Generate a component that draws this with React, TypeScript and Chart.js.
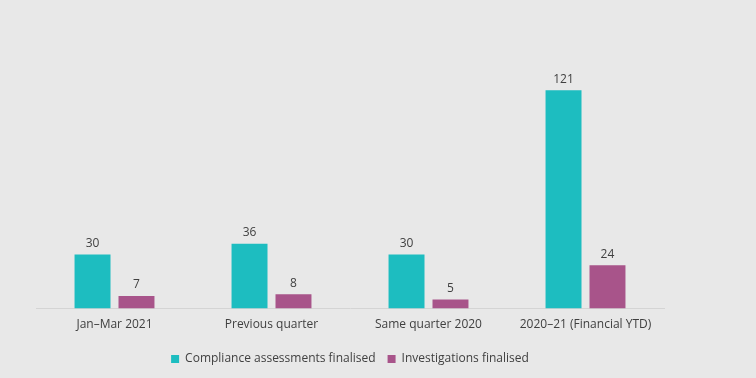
import React, { useEffect, useRef } from "react";
import { Chart, registerables } from "chart.js";

Chart.register(...registerables);

const categories = ["Jan–Mar 2021", "Previous quarter", "Same quarter 2020", "2020–21 (Financial YTD)"];
const complianceValues = [30, 36, 30, 121];
const investigationValues = [7, 8, 5, 24];
const seriesNames = ["Compliance assessments finalised", "Investigations finalised"];

const FONT = "'Open Sans', 'DejaVu Sans', sans-serif";
const TEXT = "#404040";

const labelPlugin = {
  id: "valueLabels",
  afterDatasetsDraw(chart: any) {
    const ctx = chart.ctx;
    ctx.save();
    ctx.font = `12px ${FONT}`;
    ctx.fillStyle = TEXT;
    ctx.textAlign = "center";
    ctx.textBaseline = "bottom";
    chart.data.datasets.forEach((ds: any, i: number) => {
      const meta = chart.getDatasetMeta(i);
      meta.data.forEach((bar: any, j: number) => {
        ctx.fillText(String(ds.data[j]), bar.x, bar.y - 5);
      });
    });
    ctx.restore();
  },
};

export default function App() {
  const ref = useRef<HTMLCanvasElement>(null);
  useEffect(() => {
    document.body.style.margin = "0";
    const chart = new Chart(ref.current!, {
      type: "bar",
      data: {
        labels: categories,
        datasets: [
          { label: seriesNames[0], data: complianceValues, backgroundColor: "#1dbdc0", categoryPercentage: 0.56, barPercentage: 0.818 },
          { label: seriesNames[1], data: investigationValues, backgroundColor: "#a8548a", categoryPercentage: 0.56, barPercentage: 0.818 },
        ],
      },
      options: {
        animation: false,
        responsive: false,
        layout: { padding: { top: 56, left: 36, right: 92, bottom: 3 } },
        scales: {
          x: {
            grid: { display: false, drawTicks: false },
            border: { display: true, color: "#d4d4d4" },
            ticks: { color: TEXT, font: { family: FONT, size: 12 }, padding: 9 },
          },
          y: { display: false, min: 0, max: 140 },
        },
        plugins: {
          legend: {
            position: "bottom",
            labels: { boxWidth: 8, boxHeight: 8, color: TEXT, font: { family: FONT, size: 12 }, padding: 12 },
          },
          tooltip: { enabled: false },
        },
      },
      plugins: [labelPlugin],
    });
    return () => chart.destroy();
  }, []);
  return (
    <div style={{ width: 756, height: 378, background: "#e8e8e8" }}>
      <canvas ref={ref} width={756} height={378} style={{ display: "block" }} />
    </div>
  );
}
